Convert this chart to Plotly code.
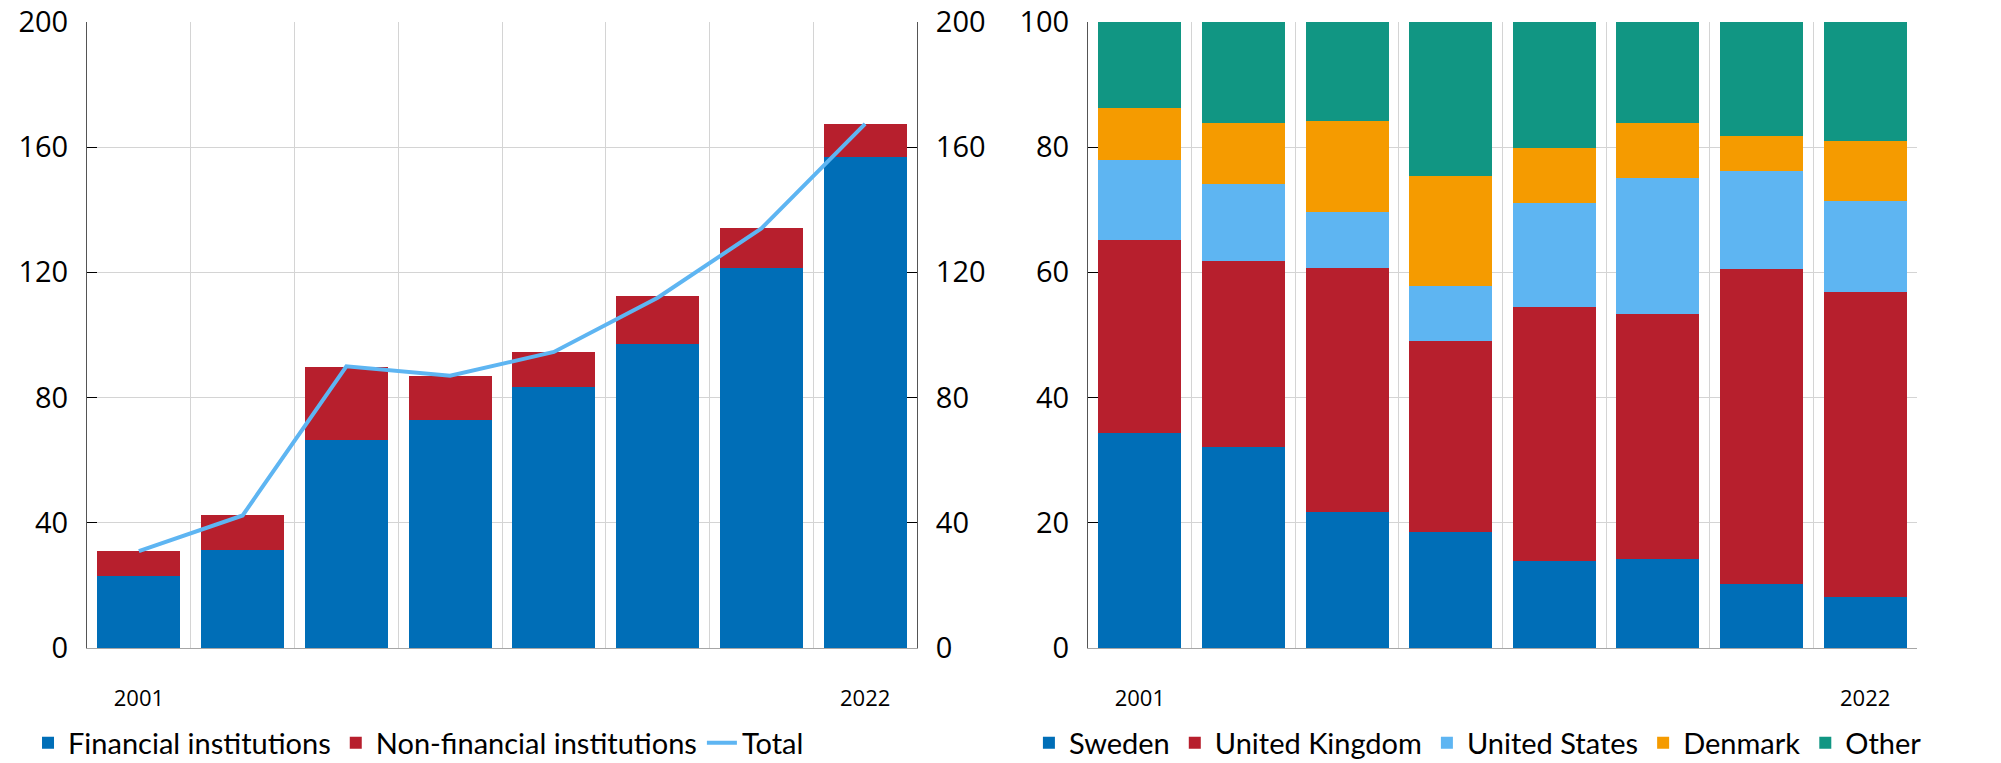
import plotly.graph_objects as go

years = [2001, 2004, 2007, 2010, 2013, 2016, 2019, 2022]
tick_years = [2001, 2022]

# Left panel (SEK billion)
financial = [23.1, 31.5, 66.6, 72.9, 83.5, 97.0, 121.5, 156.7]
non_financial = [7.9, 11.2, 23.2, 14.1, 11.1, 15.5, 12.7, 10.7]
total = [31.0, 42.4, 90.0, 87.0, 94.6, 111.9, 134.0, 167.4]

# Right panel (percent)
sweden = [34.4, 32.1, 21.8, 18.5, 14.0, 14.2, 10.2, 8.2]
uk = [30.8, 29.7, 38.9, 30.6, 40.5, 39.2, 50.3, 48.7]
us = [12.7, 12.3, 8.9, 8.7, 16.6, 21.6, 15.6, 14.5]
denmark = [8.4, 9.7, 14.5, 17.6, 8.8, 8.9, 5.7, 9.6]
other = [13.7, 16.2, 15.9, 24.6, 20.1, 16.1, 18.2, 19.0]

left_ticks = [0, 40, 80, 120, 160, 200]
right_ticks = [0, 20, 40, 60, 80, 100]

BLUE = "#006EB7"
RED = "#B71F2D"
LBLUE = "#5EB5F2"
ORANGE = "#F59B00"
TEAL = "#119683"

boundaries = [(a + b) / 2 for a, b in zip(years[:-1], years[1:])]
step = years[1] - years[0]
xr = [years[0] - step / 2, years[-1] + step / 2]

fig = go.Figure()
fig.add_trace(go.Bar(x=years, y=financial, name="Financial institutions",
                     marker=dict(color=BLUE, line=dict(width=0)), xaxis="x", yaxis="y", legend="legend"))
fig.add_trace(go.Bar(x=years, y=non_financial, name="Non-financial institutions",
                     marker=dict(color=RED, line=dict(width=0)), xaxis="x", yaxis="y", legend="legend"))
fig.add_trace(go.Scatter(x=years, y=total, name="Total", mode="lines",
                         line=dict(color=LBLUE, width=4), xaxis="x", yaxis="y2", legend="legend"))

for name, vals, col in [("Sweden", sweden, BLUE), ("United Kingdom", uk, RED),
                        ("United States", us, LBLUE), ("Denmark", denmark, ORANGE),
                        ("Other", other, TEAL)]:
    fig.add_trace(go.Bar(x=years, y=vals, name=name, marker=dict(color=col, line=dict(width=0)),
                         xaxis="x2", yaxis="y3", legend="legend2"))

tickfont = dict(family="Open Sans", size=29, color="#000")
xfont = dict(family="Open Sans", size=22, color="#000")
GRID = "#d4d4d4"
ydom = [0.15033, 0.97156]

def xax(domain, anchor):
    return dict(domain=domain, anchor=anchor, range=xr, tickmode="array", tickvals=tick_years,
                ticktext=[str(y) for y in tick_years], showgrid=False, zeroline=False,
                showline=True, linecolor="#a6a6a6", linewidth=1, ticks="", tickfont=xfont,
                ticklabelstandoff=30, automargin=False, ticklabeloverflow="allow",
                minor=dict(tickmode="array", tickvals=boundaries, showgrid=True,
                           gridcolor=GRID, gridwidth=1, ticks=""))

def yax(rng, tv, anchor, side="left", overlaying=None, grid=True):
    d = dict(domain=ydom, anchor=anchor, range=rng, tickmode="array", tickvals=tv,
             side=side, showgrid=grid, gridcolor=GRID, gridwidth=1, zeroline=False,
             showline=True, linecolor="#555", linewidth=1, ticks="inside", ticklen=10,
             tickcolor="#000", tickwidth=1, tickfont=tickfont, ticklabelstandoff=12,
             automargin=False, ticklabeloverflow="allow")
    if overlaying:
        d["overlaying"] = overlaying
    return d

legfont = dict(family="Lato", size=29, color="#000")

fig.update_layout(
    width=2001, height=763,
    margin=dict(l=0, r=0, t=0, b=0, autoexpand=False),
    paper_bgcolor="white", plot_bgcolor="white",
    barmode="stack", bargap=0.2,
    xaxis=xax([0.04348, 0.45827], "y"),
    xaxis2=xax([0.54373, 0.95802], "y3"),
    yaxis=yax([0, 200], left_ticks, "x"),
    yaxis2=yax([0, 200], left_ticks, "x", side="right", overlaying="y", grid=False),
    yaxis3=yax([0, 100], right_ticks, "x2"),
    yaxis4=yax([0, 100], right_ticks, "x2", side="right", overlaying="y3", grid=False),
    legend=dict(orientation="h", x=0.014, y=0.0262, xanchor="left", yanchor="middle",
                font=legfont, bgcolor="rgba(0,0,0,0)", traceorder="normal", itemwidth=30),
    legend2=dict(orientation="h", x=0.5142, y=0.0262, xanchor="left", yanchor="middle",
                 font=legfont, bgcolor="rgba(0,0,0,0)", traceorder="normal", itemwidth=30),
    showlegend=True,
)

fig.write_html("out.html", config={"displayModeBar": False},
               post_script="document.body.style.margin='0';")
